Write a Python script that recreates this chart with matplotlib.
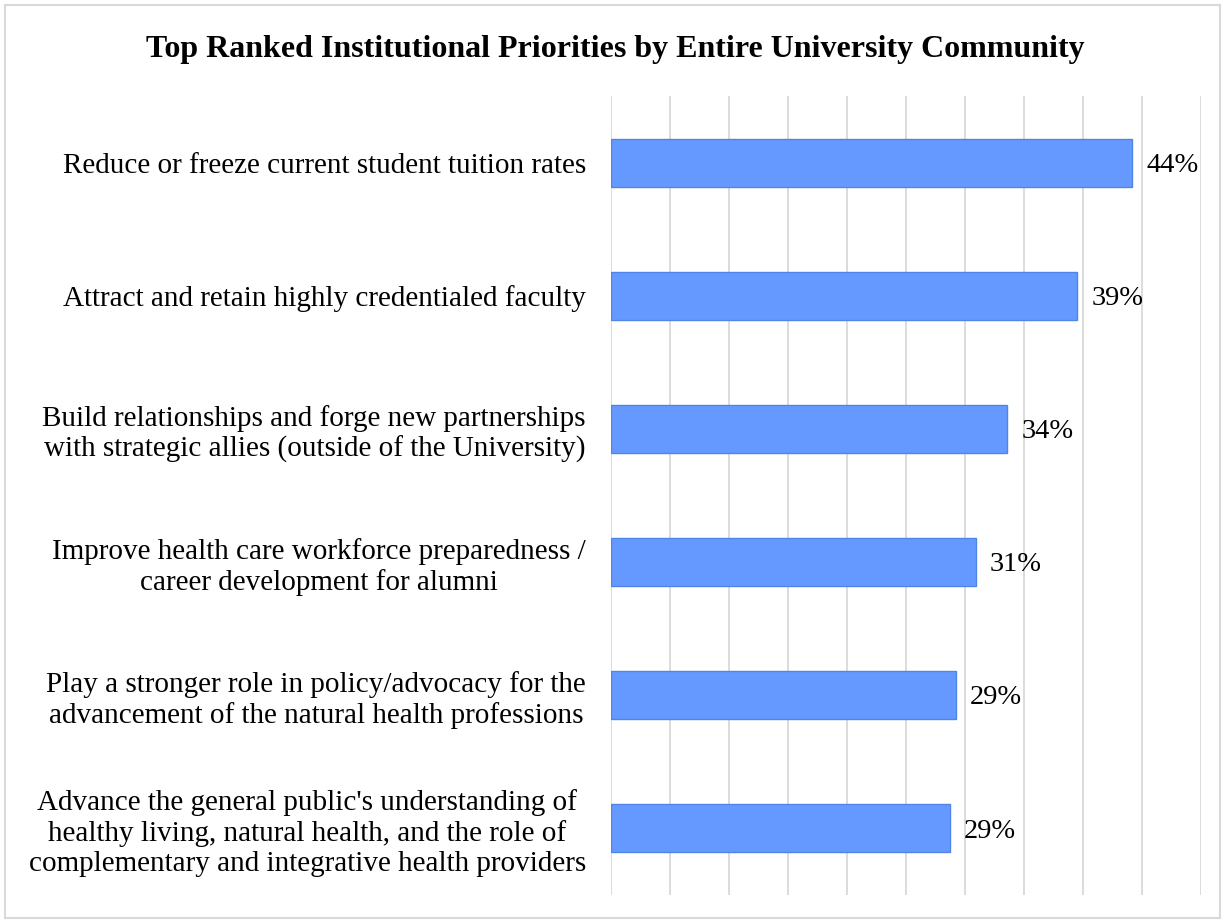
import matplotlib.pyplot as plt
from matplotlib.patches import Rectangle
from matplotlib.ticker import MultipleLocator

plt.rcParams['font.family'] = ['Liberation Serif', 'DejaVu Serif']

priorities = [
    "Reduce or freeze current student tuition rates",
    "Attract and retain highly credentialed faculty",
    "Build relationships and forge new partnerships\nwith strategic allies (outside of the University)",
    "Improve health care workforce preparedness /\ncareer development for alumni",
    "Play a stronger role in policy/advocacy for the\nadvancement of the natural health professions",
    "Advance the general public's understanding of\nhealthy living, natural health, and the role of\ncomplementary and integrative health providers",
]
shares = [0.4415, 0.395, 0.336, 0.309, 0.292, 0.287]
share_labels = ["44%", "39%", "34%", "31%", "29%", "29%"]

W, H = 1225, 923
fig = plt.figure(figsize=(W / 100, H / 100), dpi=100)
fig.patches.append(Rectangle((5 / W, 5 / H), 1 - 10 / W, 1 - 10 / H,
                             transform=fig.transFigure, fill=False,
                             edgecolor='#d9d9d9', linewidth=1.5))

ax = fig.add_axes([611 / W, (H - 895) / H, 590 / W, 799 / H])

pos = list(range(len(priorities)))
ax.barh(pos, shares, height=0.36, color='#6699ff', edgecolor='#4f86e6',
        linewidth=1, zorder=3)
for y, v, lab in zip(pos, shares, share_labels):
    ax.text(v + 0.012, y + 0.02, lab, va='center', ha='left', fontsize=20.5, zorder=4)

ax.set_xlim(0, 0.5)
ax.set_ylim(len(priorities) - 0.5, -0.5)
ax.xaxis.set_major_locator(MultipleLocator(0.05))
ax.grid(axis='x', color='#d9d9d9', linewidth=1.3, zorder=0)
ax.set_xticklabels([])
ax.tick_params(axis='x', length=0)
ax.tick_params(axis='y', length=0, pad=18)
ax.set_yticks(pos)
ax.set_yticklabels(priorities, fontsize=21, linespacing=1.2,
                   multialignment='center')
for s in ax.spines.values():
    s.set_visible(False)

fig.text(615 / W, 1 - 50 / H, "Top Ranked Institutional Priorities by Entire University Community",
         ha='center', va='center', fontsize=23, fontweight='bold')

fig.savefig('out.png', dpi=100)
